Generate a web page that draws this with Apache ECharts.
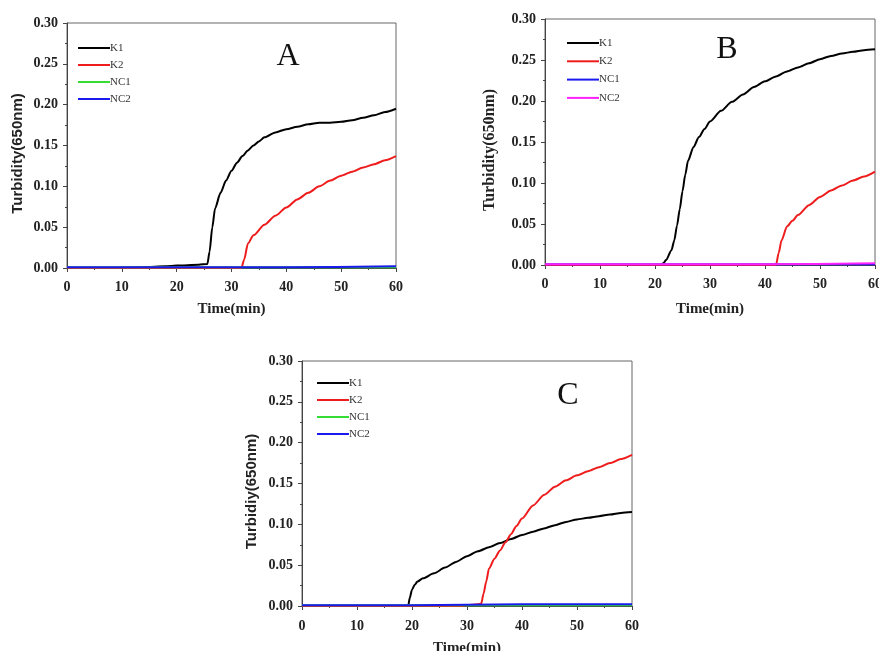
<!DOCTYPE html>
<html>
<head>
<meta charset="utf-8">
<script src="https://cdn.jsdelivr.net/npm/echarts@6/dist/echarts.min.js"></script>
<style>html,body{margin:0;padding:0;background:#fff;}#c{width:879px;height:651px;}</style>
</head>
<body>
<div id="c"></div>
<script>
// ---- Data (time in min, turbidity at 650nm) ----
const xTicks = [0, 10, 20, 30, 40, 50, 60];
const yTicks = [0, 0.05, 0.10, 0.15, 0.20, 0.25, 0.30];
const seriesNames = ['K1', 'K2', 'NC1', 'NC2'];
const panelLabels = ['A', 'B', 'C'];

// Panel A
const aK1 = [[0,0],[10,0],[14,0.001],[18,0.002],[20,0.003],[24,0.004],[25.6,0.005],[26,0.02],[26.5,0.05],[27,0.073],[28,0.092],[29,0.107],[30,0.119],[31,0.129],[32,0.137],[33,0.144],[34,0.150],[35,0.155],[36,0.160],[38,0.166],[40,0.170],[42,0.173],[44,0.176],[46,0.178],[48,0.178],[50,0.179],[52,0.181],[54,0.184],[56,0.187],[58,0.191],[60,0.195]];
const aK2 = [[0,0],[31.8,0],[32.3,0.01],[33,0.03],[34,0.040],[36,0.053],[38,0.064],[40,0.074],[42,0.084],[44,0.092],[46,0.100],[48,0.107],[50,0.113],[52,0.118],[54,0.123],[56,0.127],[58,0.132],[60,0.137]];
const aNC1 = [[0,0.001],[20,0.001],[40,0.001],[60,0.001]];
const aNC2 = [[0,0.001],[20,0.001],[40,0.001],[60,0.002]];

// Panel B
const bK1 = [[0,0],[21,0],[21.5,0.002],[22,0.006],[23,0.018],[23.5,0.03],[24,0.048],[24.5,0.068],[25,0.09],[25.5,0.11],[26,0.127],[27,0.144],[28,0.156],[29,0.166],[30,0.175],[32,0.188],[34,0.199],[36,0.208],[38,0.217],[40,0.224],[42,0.230],[44,0.236],[46,0.241],[48,0.246],[50,0.251],[52,0.255],[54,0.258],[56,0.260],[58,0.262],[60,0.263]];
const bK2 = [[0,0],[42,0],[42.5,0.015],[43,0.03],[44,0.047],[45,0.054],[46,0.061],[48,0.073],[50,0.083],[52,0.091],[54,0.097],[56,0.103],[58,0.108],[60,0.114]];
const bNC1 = [[0,0.001],[20,0.001],[40,0.001],[60,0.001]];
const bNC2 = [[0,0.001],[20,0.001],[40,0.001],[60,0.002]];

// Panel C
const cK1 = [[0,0],[19.3,0],[19.6,0.01],[20,0.02],[20.5,0.026],[21,0.030],[22,0.034],[24,0.040],[26,0.047],[28,0.054],[30,0.061],[32,0.067],[34,0.072],[36,0.077],[38,0.082],[40,0.087],[42,0.091],[44,0.095],[46,0.099],[48,0.103],[50,0.106],[52,0.108],[54,0.110],[56,0.112],[58,0.114],[60,0.115]];
const cK2 = [[0,0],[29,0],[30,0.001],[32,0.002],[32.6,0.003],[33,0.015],[33.5,0.03],[34,0.046],[35,0.058],[36,0.068],[37,0.078],[38,0.088],[39,0.098],[40,0.107],[42,0.123],[44,0.136],[46,0.146],[48,0.154],[50,0.160],[52,0.165],[54,0.170],[56,0.175],[58,0.180],[60,0.185]];
const cNC1 = [[0,0.001],[20,0.001],[40,0.001],[60,0.001]];
const cNC2 = [[0,0.001],[20,0.001],[40,0.002],[60,0.002]];

const panelData = [[aK1, aK2, aNC1, aNC2], [bK1, bK2, bNC1, bNC2], [cK1, cK2, cNC1, cNC2]];
const panelColors = [
  ['#000000', '#ee1c1c', '#33dd33', '#1a1aee'],
  ['#000000', '#ee1c1c', '#1a1aee', '#ff22ff'],
  ['#000000', '#ee1c1c', '#33dd33', '#1a1aee']
];
const yTitles = ['Turbidity(650nm)', 'Turbidity(650nm)', 'Turbidiy(650nm)'];

// ---- Layout ----
const grids = [
  {left: 67, top: 23, width: 329, height: 245},
  {left: 545, top: 19, width: 330, height: 246},
  {left: 302, top: 361, width: 330, height: 245}
];
const legendPos = [
  {left: 78, top: 42, gap: 5},
  {left: 567, top: 37, gap: 6.3},
  {left: 317, top: 377, gap: 5}
];
const letterPos = [[288, 57], [727, 50], [568, 396]];
const yNameFont = ['Liberation Sans', 'Liberation Serif', 'Liberation Sans'];
const yNameSize = [15, 16, 15];
const yNameGap = [42, 47, 43];
const xNameGap = [34, 37, 35];
const xLabelMargin = [12, 12, 13];

const axisColor = '#444';
const option = {
  animation: false,
  backgroundColor: '#fff',
  grid: grids.map(g => Object.assign({show: true, borderColor: '#666', borderWidth: 1, backgroundColor: 'transparent',
    containLabel: false, outerBoundsMode: 'none'}, g)),
  xAxis: grids.map((g, i) => ({
    type: 'value', gridIndex: i, min: xTicks[0], max: xTicks[xTicks.length - 1], interval: xTicks[1] - xTicks[0],
    name: 'Time(min)', nameLocation: 'middle', nameGap: xNameGap[i],
    nameTextStyle: {fontFamily: 'Liberation Serif', fontWeight: 'bold', fontSize: 15, color: '#222'},
    axisLine: {show: true, lineStyle: {color: axisColor, width: 1}},
    axisTick: {show: true, inside: false, length: 4, lineStyle: {color: axisColor}},
    minorTick: {show: true, splitNumber: 2, length: 2, lineStyle: {color: axisColor}},
    splitLine: {show: false},
    axisLabel: {fontFamily: 'Liberation Serif', fontWeight: 'bold', fontSize: 14, color: '#222', margin: xLabelMargin[i]}
  })),
  yAxis: grids.map((g, i) => ({
    type: 'value', gridIndex: i, min: yTicks[0], max: yTicks[yTicks.length - 1], interval: yTicks[1] - yTicks[0],
    name: yTitles[i], nameLocation: 'middle', nameGap: yNameGap[i],
    nameTextStyle: {fontFamily: yNameFont[i], fontWeight: 'bold', fontSize: yNameSize[i], color: '#222', padding: [0, 16, 0, 0]},
    axisLine: {show: true, lineStyle: {color: axisColor, width: 1}},
    axisTick: {show: true, inside: false, length: 4, lineStyle: {color: axisColor}},
    minorTick: {show: true, splitNumber: 2, length: 2, lineStyle: {color: axisColor}},
    splitLine: {show: false},
    axisLabel: {fontFamily: 'Liberation Serif', fontWeight: 'bold', fontSize: 14, color: '#222', margin: 9,
      formatter: v => v.toFixed(2)}
  })),
  legend: legendPos.map((p, i) => ({
    orient: 'vertical', left: p.left, top: p.top, itemGap: p.gap, padding: 0,
    icon: 'rect', itemWidth: 32, itemHeight: 2,
    data: seriesNames.map(n => panelLabels[i] + '-' + n),
    formatter: name => name.split('-')[1],
    textStyle: {fontFamily: 'Liberation Serif', fontSize: 11, color: '#333', padding: [0, 0, 0, -5], lineHeight: 12},
    selectedMode: false
  })),
  graphic: letterPos.map((p, i) => ({
    type: 'text', x: p[0], y: p[1],
    style: {text: panelLabels[i], fontFamily: 'Liberation Serif', fontSize: 32, fill: '#111', align: 'center', verticalAlign: 'middle'}
  })),
  series: []
};

panelData.forEach((set, pi) => {
  set.forEach((data, si) => {
    option.series.push({
      type: 'line', name: panelLabels[pi] + '-' + seriesNames[si],
      xAxisIndex: pi, yAxisIndex: pi, data: data,
      showSymbol: false, symbol: 'none', smooth: 0.25, smoothMonotone: 'x', clip: false,
      lineStyle: {color: panelColors[pi][si], width: 2},
      itemStyle: {color: panelColors[pi][si]},
      z: 2 + si
    });
  });
});

const chart = echarts.init(document.getElementById('c'), null, {renderer: 'canvas'});
chart.setOption(option);
</script>
</body>
</html>
